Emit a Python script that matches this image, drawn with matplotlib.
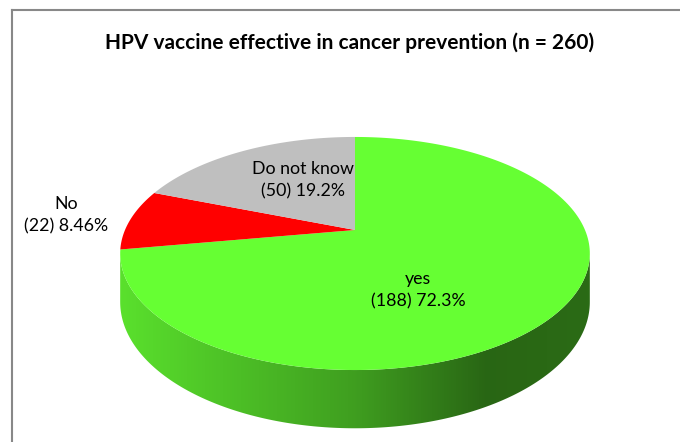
import numpy as np
import matplotlib
matplotlib.use("Agg")
import matplotlib.pyplot as plt
from matplotlib.patches import Polygon
from matplotlib.lines import Line2D

title = "HPV vaccine effective in cancer prevention (n = 260)"
labels = ["yes", "No", "Do not know"]
counts = [188, 22, 50]
pct_text = ["72.3%", "8.46%", "19.2%"]
colors = ["#66FF33", "#FF0000", "#BFBFBF"]

# projection of the tilted disk (pixel coords, y down)
cx, cy = 355, 230
c, b, k, h = 230, 111.8, 0.2016, 46.5


def proj(phi, r=1.0, dz=0.0):
    # phi: clockwise angle from 12 o'clock, degrees
    t = np.radians(phi)
    X = r * np.sin(t)
    Y = -r * np.cos(t)
    s = 1.0 / (1.0 - k * Y)
    return cx + c * X * s, cy + b * Y * s + h * s * dz


fig = plt.figure(figsize=(6.8, 4.42), dpi=100)
ax = fig.add_axes([0, 0, 1, 1])
ax.set_xlim(0, 680)
ax.set_ylim(442, 0)
ax.axis("off")

fracs = np.array(counts) / sum(counts)
edges = np.concatenate([[0], np.cumsum(fracs) * 360])

# visible side of the cylinder
vis0 = np.degrees(np.arccos(-k))
vis1 = 360 - vis0
gx = np.linspace(0, 1, 400)
shade = np.interp(gx, [0.0, 0.15, 0.5, 0.78, 1.0], [0.88, 0.8, 0.62, 0.4, 0.42])

for i in range(len(counts)):
    a0 = max(edges[i], vis0)
    a1 = min(edges[i + 1], vis1)
    if a1 <= a0:
        continue
    ph = np.linspace(a0, a1, 200)
    tx, ty = proj(ph)
    bx, by = proj(ph[::-1], dz=1.0)
    side = Polygon(np.column_stack([np.r_[tx, bx], np.r_[ty, by]]),
                   closed=True, facecolor="none", edgecolor="none")
    ax.add_patch(side)
    rgb = np.array(matplotlib.colors.to_rgb(colors[i]))
    img = (shade[None, :, None] * rgb[None, None, :])
    lx, _ = proj(vis1)
    rx, _ = proj(vis0)
    im = ax.imshow(img, extent=[lx, rx, 442, 0], aspect="auto", zorder=1)
    im.set_clip_path(side)

# top faces
for i in range(len(counts)):
    ph = np.linspace(edges[i], edges[i + 1], 200)
    px, py = proj(ph)
    ox, oy = proj(0, r=0)
    poly = Polygon(np.column_stack([np.r_[ox, px], np.r_[oy, py]]), closed=True,
                   facecolor=colors[i], edgecolor="none", zorder=2)
    ax.add_patch(poly)

ax.set_xlim(0, 680)
ax.set_ylim(442, 0)

font = "Lato"
ax.text(350, 43, title, ha="center", va="center", fontsize=15,
        fontweight="bold", family=font, zorder=5)

label_pos = [(418, 290), (66, 215), (303, 180)]
for i, (x, y) in enumerate(label_pos):
    ax.text(x, y, f"{labels[i]}\n({counts[i]}) {pct_text[i]}", ha="center",
            va="center", fontsize=12.8, family=font, linespacing=1.5, zorder=5)

# chart frame
fig.add_artist(Line2D([12 / 680, 12 / 680], [0, 1 - 10 / 442], color="#888888", lw=1.5))
fig.add_artist(Line2D([12 / 680, 1], [1 - 10 / 442, 1 - 10 / 442], color="#888888", lw=1.5))

fig.savefig("out.png", dpi=100)
